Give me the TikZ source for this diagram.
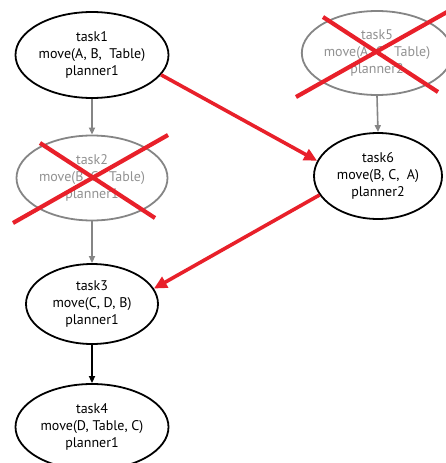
\documentclass[tikz,border=0pt]{standalone}
\usepackage{fontspec}
\setmainfont{PT Sans}
\usetikzlibrary{shapes.geometric,arrows.meta}
\definecolor{cross}{HTML}{E8202A}
\definecolor{dropped}{HTML}{858585}
\tikzset{
  task/.style={ellipse, draw, line width=1.8pt, inner sep=0pt, align=center,
    font=\fontsize{14}{17}\selectfont, text=black},
  livetask/.style={task, draw=black},
  deadtask/.style={task, draw=dropped, text=dropped!90},
  seq/.style={line width=1.6pt, -{Triangle[length=7pt,width=6pt]}},
  deadseq/.style={seq, draw=dropped, -{Triangle[length=7pt,width=6pt,fill=dropped]}},
  link/.style={draw=cross, line width=3.6pt, -{Triangle[length=13pt,width=12pt]}},
  strike/.style={draw=cross, line width=4.2pt}
}
\begin{document}
\begin{tikzpicture}[x=1pt,y=-1pt]
\useasboundingbox (0,0) rectangle (445,463);

\node[livetask, minimum width=153pt, minimum height=86pt] (t1) at (92,55)
  {task1\\move(A, B,\ \ Table)\\planner1};
\node[deadtask, minimum width=151pt, minimum height=85pt] (t2) at (92,178)
  {task2\\move(B, C,\ \ Table)\\planner1};
\node[livetask, minimum width=132pt, minimum height=80pt] (t3) at (92,304)
  {task3\\move(C, D, B)\\planner1};
\node[livetask, minimum width=153pt, minimum height=86pt] (t4) at (92,427)
  {task4\\move(D, Table, C)\\planner1};
\node[deadtask, minimum width=150pt, minimum height=84pt] (t5) at (377,53)
  {task5\\move(A, C,\ \ Table)\\planner2};
\node[livetask, minimum width=128pt, minimum height=86pt] (t6) at (378,176)
  {task6\\move(B, C,\ \ A)\\planner2};

% planner order within each planner
\draw[deadseq] (t1.south) -- (t2.north);
\draw[deadseq] (t2.south) -- (t3.north);
\draw[deadseq] (t5.south) -- (t6.north);
\draw[seq] (t3.south) -- (t4.north);

% cross-planner dependencies
\draw[link] (t1.-16) -- (t6.166);
\draw[link] (t6.198) -- (t3.14);

% removed tasks
\coordinate (a1) at (40,143);  \coordinate (a2) at (155,218);
\coordinate (b1) at (168,135); \coordinate (b2) at (13,223);
\draw[strike] (a1) -- (a2);
\draw[strike] (b1) -- (b2);
\coordinate (c1) at (323,17);  \coordinate (c2) at (438,92);
\coordinate (d1) at (447,12);  \coordinate (d2) at (296,97);
\draw[strike] (c1) -- (c2);
\draw[strike] (d1) -- (d2);
\end{tikzpicture}
\end{document}
